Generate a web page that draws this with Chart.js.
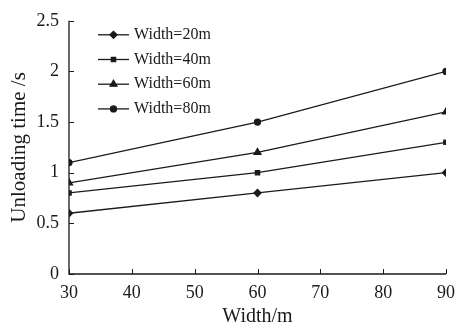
<!DOCTYPE html>
<html>
<head>
<meta charset="utf-8">
<script src="https://cdn.jsdelivr.net/npm/chart.js@4/dist/chart.umd.min.js"></script>
<style>
  html, body { margin: 0; padding: 0; background: #fff; }
  #wrap { width: 463px; height: 329px; }
</style>
</head>
<body>
<div id="wrap"><canvas id="c" width="463" height="329"></canvas></div>
<script>
// data
const widths = [30, 60, 90];
const seriesNames = ['Width=20m', 'Width=40m', 'Width=60m', 'Width=80m'];
const w20 = [0.6, 0.8, 1.0];
const w40 = [0.8, 1.0, 1.3];
const w60 = [0.9, 1.2, 1.6];
const w80 = [1.1, 1.5, 2.0];
const markers = ['rectRot', 'rect', 'triangle', 'circle'];
const xTicks = [30, 40, 50, 60, 70, 80, 90];
const yTicks = [0, 0.5, 1, 1.5, 2, 2.5];

const serif = '"Liberation Serif", "DejaVu Serif", serif';
const ink = '#1a1a1a';

const allSeries = [w20, w40, w60, w80];
const sizes = { rectRot: 3.5, rect: 3, triangle: 4, circle: 3 };
const datasets = allSeries.map((vals, i) => ({
  label: seriesNames[i],
  data: widths.map((x, j) => ({ x: x, y: vals[j] })),
  borderColor: ink,
  backgroundColor: ink,
  borderWidth: 1.3,
  pointStyle: markers[i],
  pointRadius: sizes[markers[i]],
  tension: 0
}));

// inward tick marks + in-plot legend
const decorations = {
  id: 'decorations',
  afterDraw(chart) {
    const ctx = chart.ctx;
    const xs = chart.scales.x, ys = chart.scales.y;
    const a = chart.chartArea;
    ctx.save();
    ctx.strokeStyle = ink;
    ctx.lineWidth = 1.3;
    ctx.beginPath();
    ctx.moveTo(a.left, a.top);
    ctx.lineTo(a.left, a.bottom);
    ctx.lineTo(a.right, a.bottom);
    ctx.stroke();
    ctx.lineWidth = 1;
    xTicks.forEach(v => {
      const px = Math.round(xs.getPixelForValue(v)) + 0.5;
      ctx.beginPath();
      ctx.moveTo(px, a.bottom);
      ctx.lineTo(px, a.bottom - 5);
      ctx.stroke();
    });
    yTicks.forEach(v => {
      const py = Math.round(ys.getPixelForValue(v)) + 0.5;
      ctx.beginPath();
      ctx.moveTo(a.left, py);
      ctx.lineTo(a.left + 5, py);
      ctx.stroke();
    });

    // legend
    const lx = a.left + 29, lw = 31;
    let ly = a.top + 14;
    ctx.font = '16px ' + serif;
    ctx.textBaseline = 'middle';
    ctx.fillStyle = ink;
    chart.data.datasets.forEach(ds => {
      ctx.lineWidth = 1.3;
      ctx.beginPath();
      ctx.moveTo(lx, ly);
      ctx.lineTo(lx + lw, ly);
      ctx.stroke();
      Chart.helpers.drawPoint(ctx, {
        pointStyle: ds.pointStyle,
        radius: ds.pointRadius,
        borderWidth: 1
      }, lx + lw / 2, ly);
      ctx.fillText(ds.label, lx + lw + 5, ly);
      ly += 24.7;
    });
    ctx.restore();
  }
};

new Chart(document.getElementById('c'), {
  type: 'line',
  data: { datasets: datasets },
  options: {
    responsive: false,
    animation: false,
    events: [],
    layout: { padding: { top: 15, right: 11, left: 0, bottom: 0 } },
    plugins: { legend: { display: false }, tooltip: { enabled: false } },
    scales: {
      x: {
        type: 'linear',
        min: 30, max: 90,
        afterBuildTicks(s) { s.ticks = xTicks.map(v => ({ value: v })); },
        afterFit(s) { s.height = 55; },
        grid: { display: false, drawTicks: false },
        border: { display: false },
        ticks: { color: ink, font: { family: serif, size: 18 }, padding: 8, callback: v => String(v) },
        title: { display: true, text: 'Width/m', color: ink, font: { family: serif, size: 20 }, padding: { top: 0, bottom: 0 } }
      },
      y: {
        min: 0, max: 2.5,
        afterBuildTicks(s) { s.ticks = yTicks.map(v => ({ value: v })); },
        afterFit(s) { s.width = 69; },
        grid: { display: false, drawTicks: false },
        border: { display: false },
        ticks: { color: ink, font: { family: serif, size: 18 }, padding: 10, callback: v => String(v) },
        title: { display: true, text: 'Unloading time /s', color: ink, font: { family: serif, size: 21 }, padding: { top: 7, bottom: 0 } }
      }
    }
  },
  plugins: [decorations]
});
</script>
</body>
</html>
